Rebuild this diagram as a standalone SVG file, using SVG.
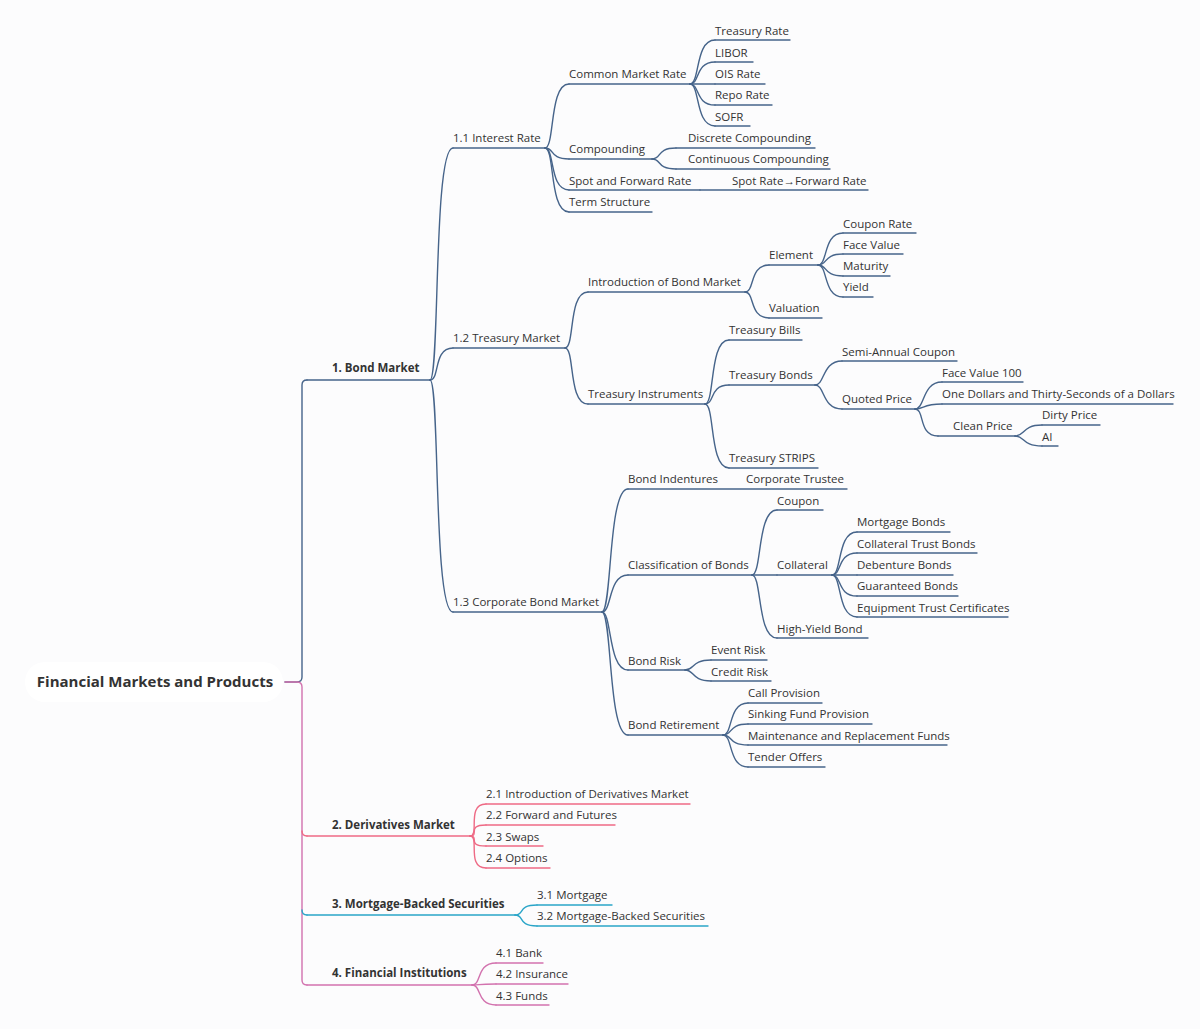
<svg xmlns="http://www.w3.org/2000/svg" width="1200" height="1029" viewBox="0 0 1200 1029">
<style>
text{font-family:"Open Sans","Noto Sans","Liberation Sans",sans-serif;font-size:11.5px;fill:#333}
.b{font-weight:bold}
.r{font-size:15px;font-weight:bold}
path{fill:none;stroke-width:1.4;stroke-linecap:round}
.bl{stroke:#46648a}.pk{stroke:#ee6a85}.tl{stroke:#2aa5c8}.mg{stroke:#d272ae}
.st{fill:#e0101a}
</style>
<defs><path id="star" d="M0,-5.5 L1.6,-1.8 L5.3,-1.7 L2.5,1 L3.3,5 L0,3 L-3.3,5 L-2.5,1 L-5.3,-1.7 L-1.6,-1.8Z"/></defs>
<rect width="1200" height="1029" fill="#fcfcfd"/>
<g id="connectors">
<path class="bl" stroke-width="3" d="M285 682 L297 682 Q302 682 302 677 L302 385 Q302 380 307 380"/>
<path class="mg" stroke-width="3" d="M285 682 L297 682 Q302 682 302 687 L302 980 Q302 985 307 985"/>
<path class="pk" d="M302 831 Q302 836 307 836"/>
<path class="tl" d="M302 910 Q302 915 307 915"/>
<g class="bl">
<path d="M430 380 C440 380 433 148 453 148"/>
<path d="M430 380 C440 380 433 348 453 348"/>
<path d="M430 380 C440 380 433 612 453 612"/>
<path d="M545 148 C555 148 549 84 569 84"/>
<path d="M545 148 C555 148 549 159 569 159"/>
<path d="M545 148 C555 148 549 190 569 190"/>
<path d="M545 148 C555 148 549 212 569 212"/>
<path d="M690 84 C700 84 695 40 715 40"/>
<path d="M690 84 C700 84 695 62 715 62"/>
<path d="M690 84 L715 84"/>
<path d="M690 84 C700 84 695 105 715 105"/>
<path d="M690 84 C700 84 695 126 715 126"/>
<path d="M652 159 C662 159 656 148 676 148"/>
<path d="M652 159 C662 159 656 169 676 169"/>
<path d="M565 348 C575 348 568 292 588 292"/>
<path d="M565 348 C575 348 568 404 588 404"/>
<path d="M745 292 C755 292 749 265 769 265"/>
<path d="M745 292 C755 292 749 318 769 318"/>
<path d="M818 265 C828 265 823 233 843 233"/>
<path d="M818 265 C828 265 823 254 843 254"/>
<path d="M818 265 C828 265 823 276 843 276"/>
<path d="M818 265 C828 265 823 297 843 297"/>
<path d="M705 404 C715 404 709 340 729 340"/>
<path d="M705 404 C715 404 709 385 729 385"/>
<path d="M705 404 C715 404 709 468 729 468"/>
<path d="M815 385 C825 385 822 361 842 361"/>
<path d="M815 385 C825 385 822 409 842 409"/>
<path d="M915 409 C925 409 922 382 942 382"/>
<path d="M915 409 C925 409 922 404 942 404"/>
<path d="M915 409 C925 409 918 436 938 436"/>
<path d="M1015 436 C1025 436 1022 425 1042 425"/>
<path d="M1015 436 C1025 436 1022 446 1042 446"/>
<path d="M602 612 C612 612 608 489 628 489"/>
<path d="M602 612 C612 612 608 575 628 575"/>
<path d="M602 612 C612 612 608 670 628 670"/>
<path d="M602 612 C612 612 608 735 628 735"/>
<path d="M752 575 C762 575 757 510 777 510"/>
<path d="M752 575 L777 575"/>
<path d="M752 575 C762 575 757 638 777 638"/>
<path d="M832 575 C842 575 837 532 857 532"/>
<path d="M832 575 C842 575 837 553 857 553"/>
<path d="M832 575 L857 575"/>
<path d="M832 575 C842 575 837 596 857 596"/>
<path d="M832 575 C842 575 837 617 857 617"/>
<path d="M685 670 C695 670 691 660 711 660"/>
<path d="M685 670 C695 670 691 681 711 681"/>
<path d="M723 735 C733 735 728 703 748 703"/>
<path d="M723 735 C733 735 728 724 748 724"/>
<path d="M723 735 C733 735 728 745 748 745"/>
<path d="M723 735 C733 735 728 767 748 767"/>
</g>
<g class="pk">
<path d="M470 836 C480 836 466 804 486 804"/>
<path d="M470 836 C480 836 466 825 486 825"/>
<path d="M470 836 C480 836 466 846 486 846"/>
<path d="M470 836 C480 836 466 868 486 868"/>
</g>
<g class="tl">
<path d="M515 915 C525 915 517 905 537 905"/>
<path d="M515 915 C525 915 517 926 537 926"/>
</g>
<g class="mg">
<path d="M472 985 C482 985 476 963 496 963"/>
<path d="M472 985 C482 985 476 984 496 984"/>
<path d="M472 985 C482 985 476 1005 496 1005"/>
</g>
</g>
<g id="root"><rect x="25" y="662" width="258" height="40" rx="20" fill="#fff"/><text class="r" x="155" y="687" text-anchor="middle">Financial Markets and Products</text></g>
<g id="n1"><path class="bl" stroke-width="2" d="M307 380 H430"/><text class="b" x="332" y="372">1. Bond Market</text></g>
<g id="n2"><path class="pk" d="M307 836 H470"/><text class="b" x="332" y="829">2. Derivatives Market</text></g>
<g id="n3"><path class="tl" d="M307 915 H515"/><text class="b" x="332" y="908">3. Mortgage-Backed Securities</text></g>
<g id="n4"><path class="mg" d="M307 985 H472"/><text class="b" x="332" y="977">4. Financial Institutions</text></g>
<g id="n11"><path class="bl" d="M453 148 H545"/><text x="453" y="142">1.1 Interest Rate</text></g>
<g id="n12"><path class="bl" d="M453 348 H565"/><text x="453" y="342">1.2 Treasury Market</text></g>
<g id="n13"><path class="bl" d="M453 612 H602"/><text x="453" y="606">1.3 Corporate Bond Market</text></g>
<g id="cmr"><path class="bl" d="M569 84 H690"/><text x="569" y="78">Common Market Rate</text></g>
<g id="cmp"><path class="bl" d="M569 159 H652"/><text x="569" y="153">Compounding</text></g>
<g id="sfr"><path class="bl" d="M569 190 H700"/><text x="569" y="185">Spot and Forward Rate</text></g>
<g id="sfr1"><path class="bl" d="M700 190 H868"/><use href="#star" class="st" x="724" y="180"/><text x="732" y="185">Spot Rate→Forward Rate</text></g>
<g id="ts"><path class="bl" d="M569 212 H652"/><text x="569" y="206">Term Structure</text></g>
<g id="tr"><path class="bl" d="M715 40 H790"/><text x="715" y="35">Treasury Rate</text></g>
<g id="libor"><path class="bl" d="M715 62 H753"/><text x="715" y="57">LIBOR</text></g>
<g id="ois"><path class="bl" d="M715 84 H765"/><text x="715" y="78">OIS Rate</text></g>
<g id="repo"><path class="bl" d="M715 105 H772"/><text x="715" y="99">Repo Rate</text></g>
<g id="sofr"><path class="bl" d="M715 126 H750"/><text x="715" y="121">SOFR</text></g>
<g id="dc"><path class="bl" d="M676 148 H815"/><use href="#star" class="st" x="680" y="138"/><text x="688" y="142">Discrete Compounding</text></g>
<g id="cc"><path class="bl" d="M676 169 H830"/><use href="#star" class="st" x="680" y="159"/><text x="688" y="163">Continuous Compounding</text></g>
<g id="ibm"><path class="bl" d="M588 292 H745"/><text x="588" y="286">Introduction of Bond Market</text></g>
<g id="ti"><path class="bl" d="M588 404 H705"/><text x="588" y="398">Treasury Instruments</text></g>
<g id="el"><path class="bl" d="M769 265 H818"/><text x="769" y="259">Element</text></g>
<g id="val"><path class="bl" d="M769 318 H822"/><text x="769" y="312">Valuation</text></g>
<g id="cr"><path class="bl" d="M843 233 H916"/><text x="843" y="228">Coupon Rate</text></g>
<g id="fv"><path class="bl" d="M843 254 H903"/><text x="843" y="249">Face Value</text></g>
<g id="mat"><path class="bl" d="M843 276 H890"/><text x="843" y="270">Maturity</text></g>
<g id="yld"><path class="bl" d="M843 297 H873"/><text x="843" y="291">Yield</text></g>
<g id="tb"><path class="bl" d="M729 340 H802"/><text x="729" y="334">Treasury Bills</text></g>
<g id="tbo"><path class="bl" d="M729 385 H815"/><text x="729" y="379">Treasury Bonds</text></g>
<g id="tst"><path class="bl" d="M729 468 H818"/><text x="729" y="462">Treasury STRIPS</text></g>
<g id="sac"><path class="bl" d="M842 361 H957"/><text x="842" y="356">Semi-Annual Coupon</text></g>
<g id="qp"><path class="bl" d="M842 409 H915"/><text x="842" y="403">Quoted Price</text></g>
<g id="fv100"><path class="bl" d="M942 382 H1023"/><text x="942" y="377">Face Value 100</text></g>
<g id="od"><path class="bl" d="M942 404 H1173"/><text x="942" y="398">One Dollars and Thirty-Seconds of a Dollars</text></g>
<g id="cp"><path class="bl" d="M938 436 H1015"/><use href="#star" class="st" x="945" y="426"/><text x="953" y="430">Clean Price</text></g>
<g id="dp"><path class="bl" d="M1042 425 H1100"/><text x="1042" y="419">Dirty Price</text></g>
<g id="ai"><path class="bl" d="M1042 446 H1058"/><text x="1042" y="441">AI</text></g>
<g id="bi"><path class="bl" d="M628 489 H847"/><text x="628" y="483">Bond Indentures</text></g>
<g id="ctr"><text x="746" y="483">Corporate Trustee</text></g>
<g id="cob"><path class="bl" d="M628 575 H752"/><text x="628" y="569">Classification of Bonds</text></g>
<g id="br"><path class="bl" d="M628 670 H685"/><text x="628" y="665">Bond Risk</text></g>
<g id="bre"><path class="bl" d="M628 735 H723"/><text x="628" y="729">Bond Retirement</text></g>
<g id="cpn"><path class="bl" d="M777 510 H823"/><text x="777" y="505">Coupon</text></g>
<g id="col"><path class="bl" d="M777 575 H832"/><text x="777" y="569">Collateral</text></g>
<g id="hy"><path class="bl" d="M777 638 H868"/><text x="777" y="633">High-Yield Bond</text></g>
<g id="mb"><path class="bl" d="M857 532 H950"/><text x="857" y="526">Mortgage Bonds</text></g>
<g id="ctb"><path class="bl" d="M857 553 H977"/><text x="857" y="548">Collateral Trust Bonds</text></g>
<g id="db"><path class="bl" d="M857 575 H953"/><text x="857" y="569">Debenture Bonds</text></g>
<g id="gb"><path class="bl" d="M857 596 H958"/><text x="857" y="590">Guaranteed Bonds</text></g>
<g id="etc"><path class="bl" d="M857 617 H1008"/><text x="857" y="612">Equipment Trust Certificates</text></g>
<g id="er"><path class="bl" d="M711 660 H767"/><text x="711" y="654">Event Risk</text></g>
<g id="crk"><path class="bl" d="M711 681 H771"/><text x="711" y="676">Credit Risk</text></g>
<g id="cpv"><path class="bl" d="M748 703 H822"/><text x="748" y="697">Call Provision</text></g>
<g id="sfp"><path class="bl" d="M748 724 H872"/><text x="748" y="718">Sinking Fund Provision</text></g>
<g id="mrf"><path class="bl" d="M748 745 H947"/><text x="748" y="740">Maintenance and Replacement Funds</text></g>
<g id="to"><path class="bl" d="M748 767 H825"/><text x="748" y="761">Tender Offers</text></g>
<g id="d21"><path class="pk" d="M486 804 H690"/><text x="486" y="798">2.1 Introduction of Derivatives Market</text></g>
<g id="d22"><path class="pk" d="M486 825 H615"/><text x="486" y="819">2.2 Forward and Futures</text></g>
<g id="d23"><path class="pk" d="M486 846 H543"/><text x="486" y="841">2.3 Swaps</text></g>
<g id="d24"><path class="pk" d="M486 868 H550"/><text x="486" y="862">2.4 Options</text></g>
<g id="m31"><path class="tl" d="M537 905 H612"/><text x="537" y="899">3.1 Mortgage</text></g>
<g id="m32"><path class="tl" d="M537 926 H708"/><text x="537" y="920">3.2 Mortgage-Backed Securities</text></g>
<g id="f41"><path class="mg" d="M496 963 H543"/><text x="496" y="957">4.1 Bank</text></g>
<g id="f42"><path class="mg" d="M496 984 H568"/><text x="496" y="978">4.2 Insurance</text></g>
<g id="f43"><path class="mg" d="M496 1005 H549"/><text x="496" y="1000">4.3 Funds</text></g>
</svg>
